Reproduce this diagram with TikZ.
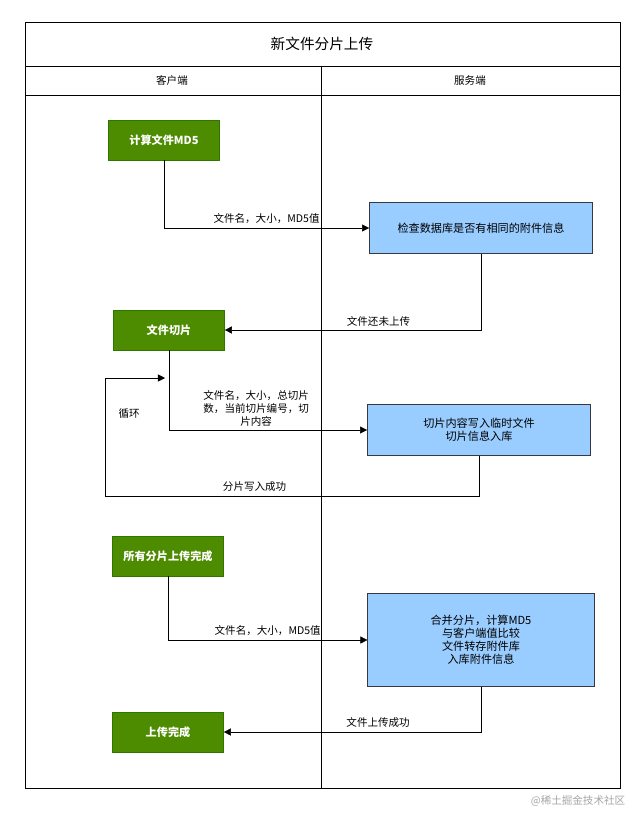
\documentclass[tikz,border=0pt]{standalone}
\usepackage{fontspec}
\setmainfont{Noto Sans CJK SC}
\usetikzlibrary{positioning,arrows.meta}
\definecolor{StepGreen}{RGB}{77,140,0}
\definecolor{StepGreenLine}{RGB}{45,118,0}
\definecolor{ServBlue}{RGB}{153,204,255}
\definecolor{ServLine}{RGB}{54,57,61}
\tikzset{
    clientbox/.style={rectangle, draw=StepGreenLine, fill=StepGreen, text=white, font=\bfseries\fontsize{9.5}{11}\selectfont, minimum width=3.3cm, minimum height=1.2cm, align=center, text width=3.1cm},
    serverbox/.style={rectangle, draw=ServLine, fill=ServBlue, font=\fontsize{9.5}{11}\selectfont, align=center},
    flow/.style={draw=black, -{Triangle[length=6pt,width=6pt]}},
    flowlabel/.style={font=\fontsize{9}{11}\selectfont, align=center}
}
\begin{document}
\begin{tikzpicture}[x=0.03cm, y=-0.03cm]
    \useasboundingbox (0,0) rectangle (643,813);
    \fill[white] (0,0) rectangle (643,813);
    % lanes
    \draw[thick] (25,22) rectangle (620,788);
    \draw[thick] (25,66) -- (620,66);
    \draw[thick] (25,95) -- (620,95);
    \draw[thick] (321,66) -- (321,788);
    \node[font=\fontsize{12.5}{14}\selectfont] (title) at (322,44) {新文件分片上传};
    \node[flowlabel] (client) at (172,80) {客户端};
    \node[flowlabel] (server) at (470,80) {服务端};
    % client steps
    \node[clientbox] (md5) at (164,140) {计算文件MD5};
    \node[clientbox] (slice) at (169,330) {文件切片};
    \node[clientbox] (alldone) at (168,556) {所有分片上传完成};
    \node[clientbox] (finish) at (168,732) {上传完成};
    % server steps
    \node[serverbox, minimum width=6.7cm, minimum height=1.53cm] (check) at (481,228) {检查数据库是否有相同的附件信息};
    \node[serverbox, minimum width=6.7cm, minimum height=1.53cm] (store) at (479,430) {切片内容写入临时文件\\切片信息入库};
    \node[serverbox, minimum width=6.8cm, minimum height=2.8cm] (merge) at (481,640) {合并分片，计算MD5\\与客户端值比较\\文件转存附件库\\入库附件信息};
    \coordinate (loopin) at (165,378);
    % connectors
    \draw[flow] (md5.south) |- node[flowlabel, pos=0.75, above] {文件名，大小，MD5值} (check.west);
    \draw[flow] (check.south) |- node[flowlabel, pos=0.7, above] {文件还未上传} (slice.east);
    \draw[flow] (slice.south) |- node[flowlabel, pos=0.72, above, text width=4.6cm] {文件名，大小，总切片\\数，当前切片编号，切\\片内容} (store.west);
    \draw[flow] (store.south) -- ++(0,40) -| node[flowlabel, pos=0.3, above] {分片写入成功} (105,378) node[flowlabel, pos=0.85, right=8pt] {循环} -- (loopin);
    \draw[flow] (alldone.south) |- node[flowlabel, pos=0.75, above] {文件名，大小，MD5值} (merge.west);
    \draw[flow] (merge.south) |- node[flowlabel, pos=0.7, above] {文件上传成功} (finish.east);
    \node[font=\fontsize{9}{11}\selectfont, text=gray!70] (mark) at (578,801) {@稀土掘金技术社区};
\end{tikzpicture}
\end{document}
